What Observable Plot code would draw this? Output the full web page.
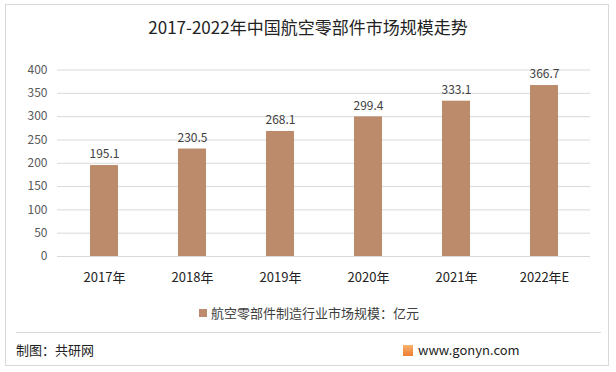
<!DOCTYPE html>
<html><head><meta charset="utf-8">
<script src="https://cdn.jsdelivr.net/npm/d3@7"></script>
<script src="https://cdn.jsdelivr.net/npm/@observablehq/plot@0.6"></script>
<style>
body{margin:0;background:#fff;font-family:"Noto Sans CJK SC","Noto Sans",sans-serif;}
#wrap{position:relative;width:616px;height:372px;overflow:hidden;}
#frame{position:absolute;left:5px;top:4px;width:604px;height:362px;border:1px solid #d9d9d9;box-sizing:border-box;}
#title{position:absolute;left:0;width:616px;top:14px;text-align:center;font-size:17px;color:#222;line-height:26px;}
#chart{position:absolute;left:0;top:0;}
#legend{position:absolute;left:199px;top:304px;font-size:13px;color:#404040;line-height:18px;display:flex;align-items:center;}
#legend span.sw{display:inline-block;width:8px;height:8px;background:#BB8B6B;margin-right:4px;}
#sep{position:absolute;left:16px;top:332px;width:585px;height:1px;background:#d9d9d9;}
#credit{position:absolute;left:16px;top:340px;font-size:13px;color:#222;line-height:20px;}
#site{position:absolute;left:403px;top:340px;font-size:13px;color:#222;line-height:20px;display:flex;align-items:center;}
#site span.ic{display:inline-block;width:10px;height:11px;background:linear-gradient(#f6b26b,#ef7d31);margin-right:5px;}
</style></head>
<body>
<div id="wrap">
<div id="frame"></div>
<div id="title">2017-2022年中国航空零部件市场规模走势</div>
<div id="chart"></div>
<div id="legend"><span class="sw"></span>航空零部件制造行业市场规模：亿元</div>
<div id="sep"></div>
<div id="credit">制图：共研网</div>
<div id="site"><span class="ic"></span>www.gonyn.com</div>
</div>
<script>
const years = ["2017年","2018年","2019年","2020年","2021年","2022年E"];
const values = [195.1, 230.5, 268.1, 299.4, 333.1, 366.7];
const yTicks = [0,50,100,150,200,250,300,350,400];
const data = years.map((y,i)=>({year:y, value:values[i]}));
const color = "#BB8B6B";
const chart = Plot.plot({
  width: 616, height: 300,
  marginTop: 69.5, marginBottom: 44, marginLeft: 57, marginRight: 26,
  style: {fontFamily: '"Noto Sans CJK SC","Noto Sans",sans-serif', background: "transparent"},
  x: {domain: years, paddingInner: 0.685, paddingOuter: 0.3425, label: null},
  y: {domain: [0,400], ticks: yTicks, label: null},
  marks: [
    Plot.ruleY(yTicks, {stroke: "#d9d9d9", strokeWidth: 1}),
    Plot.barY(data, {x: "year", y: "value", fill: color}),
    Plot.text(data, {x: "year", y: "value", text: d => d.value.toFixed(1), dy: -11, fontSize: 12, fill: "#404040"}),
    Plot.axisY({ticks: yTicks, tickSize: 0, tickPadding: 10, fontSize: 12, color: "#595959", label: null}),
    Plot.axisX({tickSize: 0, tickPadding: 16, fontSize: 13, color: "#222", label: null})
  ]
});
document.getElementById("chart").appendChild(chart);
</script>
</body></html>
